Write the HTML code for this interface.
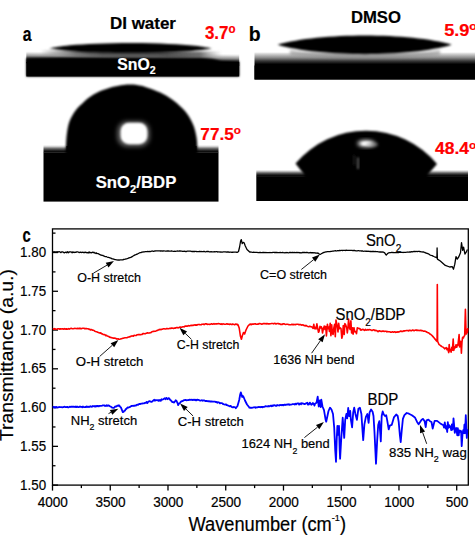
<!DOCTYPE html>
<html><head><meta charset="utf-8"><style>
html,body{margin:0;padding:0;background:#fff;}
body{width:475px;height:535px;overflow:hidden;}
svg{display:block;font-family:"Liberation Sans", sans-serif;}
text{stroke-width:0.2px;}
.k text{stroke:#000;}
</style></head><body>
<svg width="475" height="535" viewBox="0 0 475 535" xmlns="http://www.w3.org/2000/svg">
<defs>
<filter id="b1" x="-20%" y="-50%" width="140%" height="200%"><feGaussianBlur stdDeviation="0.8"/></filter>
<filter id="b15" x="-20%" y="-50%" width="140%" height="200%"><feGaussianBlur stdDeviation="0.8"/></filter>
<filter id="b12" x="-30%" y="-30%" width="160%" height="160%"><feGaussianBlur stdDeviation="1.1"/></filter>
<filter id="b2" x="-20%" y="-50%" width="140%" height="200%"><feGaussianBlur stdDeviation="1.6"/></filter>
<filter id="b3" x="-50%" y="-50%" width="200%" height="200%"><feGaussianBlur stdDeviation="2.2"/></filter>
<linearGradient id="subA" x1="0" y1="0" x2="0" y2="1">
 <stop offset="0" stop-color="#fff"/><stop offset="0.12" stop-color="#e8e8e8"/><stop offset="0.35" stop-color="#a0a0a0"/><stop offset="0.6" stop-color="#404040"/><stop offset="0.8" stop-color="#080808"/><stop offset="1" stop-color="#000"/>
</linearGradient>
<linearGradient id="subB" x1="0" y1="0" x2="0" y2="1">
 <stop offset="0" stop-color="#f4f4f4"/><stop offset="0.08" stop-color="#c8c8c8"/><stop offset="0.2" stop-color="#8a8a8a"/><stop offset="0.32" stop-color="#383838"/><stop offset="0.44" stop-color="#000"/><stop offset="1" stop-color="#000"/>
</linearGradient>
<linearGradient id="edgeT" x1="0" y1="0" x2="0" y2="1">
 <stop offset="0" stop-color="#fff"/><stop offset="0.2" stop-color="#d0d0d0"/><stop offset="0.5" stop-color="#606060"/><stop offset="0.8" stop-color="#151515"/><stop offset="1" stop-color="#000"/>
</linearGradient>
<linearGradient id="bandA" x1="0" y1="0" x2="1" y2="0">
 <stop offset="0" stop-color="#888" stop-opacity="0"/><stop offset="0.1" stop-color="#999" stop-opacity="0.8"/><stop offset="0.2" stop-color="#777"/><stop offset="0.35" stop-color="#555"/><stop offset="0.7" stop-color="#505050"/><stop offset="0.88" stop-color="#707070"/><stop offset="1" stop-color="#999" stop-opacity="0"/>
</linearGradient>
<linearGradient id="softTop" x1="0" y1="0" x2="0" y2="1"><stop offset="0" stop-color="#000" stop-opacity="0"/><stop offset="1" stop-color="#000"/></linearGradient>
</defs>
<g transform="translate(26.3,51.2) skewY(0.75)"><rect x="0" y="0" width="212.9" height="12" fill="url(#subA)"/></g>
<g filter="url(#b1)"><path d="M40,50 C80,50.5 170,51.5 222,51.5 L222,58 C170,58 90,57.5 40,57 Z" fill="url(#bandA)"/></g>
<g filter="url(#b1)"><path d="M49,48.3 C55,47.3 60,46.5 70,45.3 C85,43.8 105,43 132,42.9 C160,43 180,44.3 195,45.8 C203,46.8 208,47.7 212,48.6 C205,49.8 198,50.6 190,51.2 C170,52.5 150,53 132,53 C110,53 90,52.6 80,52 C70,51.3 60,50.2 49,48.3 Z" fill="#000"/></g>
<g filter="url(#b15)"><path d="M26.3,58.3 L60,57.6 L200,57.8 C210,58 214,59.5 222,61 L239.2,61.6 L239.2,76.5 L26.3,76.5 Z" fill="#000"/></g>
<rect x="26.3" y="62" width="212.9" height="14.5" fill="#000"/>
<rect x="43.5" y="145" width="175" height="7.5" fill="url(#edgeT)"/>
<rect x="43.5" y="152.3" width="175" height="49.3" fill="#000"/>
<g filter="url(#b15)"><path d="M65.60,150.00 C65.65,149.42 65.73,148.83 65.90,146.50 C66.07,144.17 66.18,139.58 66.60,136.00 C67.02,132.42 67.58,128.17 68.40,125.00 C69.22,121.83 70.23,119.50 71.50,117.00 C72.77,114.50 74.48,111.98 76.00,110.00 C77.52,108.02 78.48,107.15 80.60,105.10 C82.72,103.05 85.67,99.92 88.70,97.70 C91.73,95.48 95.15,93.48 98.80,91.80 C102.45,90.12 106.90,88.68 110.60,87.60 C114.30,86.52 117.93,85.80 121.00,85.30 C124.07,84.80 126.33,84.63 129.00,84.60 C131.67,84.57 134.03,84.63 137.00,85.10 C139.97,85.57 142.92,86.15 146.80,87.40 C150.68,88.65 156.08,90.60 160.30,92.60 C164.52,94.60 168.52,96.87 172.10,99.40 C175.68,101.93 179.02,105.00 181.80,107.80 C184.58,110.60 186.80,113.12 188.80,116.20 C190.80,119.28 192.52,122.78 193.80,126.30 C195.08,129.82 195.92,133.93 196.50,137.30 C197.08,140.67 197.15,144.38 197.30,146.50 C197.45,148.62 197.38,149.42 197.40,150.00 L197.4,155 L65.6,155 Z" fill="#000"/></g>
<rect x="66.5" y="146" width="130" height="6" fill="#000"/>
<g filter="url(#b3)"><rect x="117" y="121" width="33" height="26" rx="10" fill="#fff" opacity="0.35"/></g>
<g filter="url(#b12)"><rect x="120.6" y="122.7" width="26.8" height="21.6" rx="8.5" fill="#fff"/></g>
<rect x="254.5" y="52.3" width="220.5" height="27.2" fill="url(#subB)"/>
<g filter="url(#b2)"><path d="M290,50 C330,55 400,55 440,50 L440,55 C400,59 330,59 290,55 Z" fill="#888" opacity="0.6"/></g>
<g filter="url(#b1)"><path d="M277.6,44.8 C320,32.5 410,32.5 451.8,44.8 C410,57.3 320,57.3 277.6,44.8 Z" fill="#000"/></g>
<rect x="254.5" y="65.5" width="220.5" height="14" fill="#000"/>
<rect x="256.3" y="169.8" width="211.7" height="6.5" fill="url(#edgeT)"/>
<rect x="256.3" y="176.1" width="211.7" height="24.9" fill="#000"/>
<g filter="url(#b15)"><path d="M295.5,163.5 A92.3,92.3 0 0 1 437,164 L427.5,175 L428,180 L304.5,180 L304.5,175 Z" fill="#000"/></g>
<g filter="url(#b3)"><ellipse cx="366" cy="143.5" rx="8.5" ry="3.2" fill="#fff"/></g>
<g filter="url(#b1)"><ellipse cx="366" cy="143.5" rx="4.5" ry="1.6" fill="#fff"/></g>
<g filter="url(#b1)"><rect x="357.2" y="157.5" width="1.6" height="11.5" fill="#6a6a6a"/><rect x="353.6" y="155" width="1.2" height="10" fill="#2a2a2a"/></g>
<g filter="url(#b2)"><ellipse cx="372" cy="144.5" rx="6" ry="2.6" fill="#aaa" opacity="0.6"/></g>
<text transform="translate(22.84,40.50) scale(0.7799,1)" font-size="20.20" fill="#000" font-weight="bold" stroke="#000" stroke-width="0.40">a</text>
<text transform="translate(248.82,40.50) scale(1.0077,1)" font-size="19.30" fill="#000" font-weight="bold" stroke="#000" stroke-width="0.10">b</text>
<text transform="translate(22.42,242.40) scale(0.7531,1)" font-size="19.60" fill="#000" font-weight="bold" stroke="#000" stroke-width="0.35">c</text>
<text transform="translate(109.96,29.20) scale(1.0423,1)" font-size="16.30" fill="#000" font-weight="bold" stroke="#000" stroke-width="0.30">DI water</text>
<text transform="translate(350.88,22.90) scale(1.0441,1)" font-size="16.00" fill="#000" font-weight="bold" stroke="#000" stroke-width="0.30">DMSO</text>
<text transform="translate(204.91,38.70) scale(0.9730,1)" font-size="17.50" fill="#ff0000" font-weight="bold" stroke="#ff0000" stroke-width="0.30">3.7<tspan font-size="11.90" dy="-5.86">o</tspan><tspan dy="5.86"></tspan></text>
<text transform="translate(444.14,36.00) scale(1.0500,1)" font-size="17.30" fill="#ff0000" font-weight="bold" stroke="#ff0000" stroke-width="0.30">5.9<tspan font-size="11.76" dy="-5.80">o</tspan></text>
<text transform="translate(200.36,140.00) scale(0.9936,1)" font-size="17.30" fill="#ff0000" font-weight="bold" stroke="#ff0000" stroke-width="0.30">77.5<tspan font-size="11.76" dy="-5.80">o</tspan></text>
<text transform="translate(435.03,154.30) scale(1.0300,1)" font-size="17.00" fill="#ff0000" font-weight="bold" stroke="#ff0000" stroke-width="0.30">48.4<tspan font-size="11.56" dy="-5.70">o</tspan></text>
<text transform="translate(117.24,69.70) scale(0.9408,1)" font-size="16.80" fill="#fff" font-weight="bold" stroke="#fff" stroke-width="0.30">SnO<tspan font-size="11.26" dy="4.79">2</tspan></text>
<text transform="translate(95.72,188.00) scale(0.9836,1)" font-size="17.00" fill="#fff" font-weight="bold" stroke="#fff" stroke-width="0.30">SnO<tspan font-size="11.39" dy="4.84">2</tspan><tspan dy="-4.84">/BDP</tspan></text>
<g fill="none" stroke="#000" stroke-width="1.3">
<rect x="52.5" y="228.9" width="415.8" height="256.2"/>
<line x1="52.5" y1="485.12" x2="58.0" y2="485.12"/>
<line x1="52.5" y1="465.74" x2="55.5" y2="465.74"/>
<line x1="52.5" y1="446.35" x2="58.0" y2="446.35"/>
<line x1="52.5" y1="426.97" x2="55.5" y2="426.97"/>
<line x1="52.5" y1="407.58" x2="58.0" y2="407.58"/>
<line x1="52.5" y1="388.20" x2="55.5" y2="388.20"/>
<line x1="52.5" y1="368.81" x2="58.0" y2="368.81"/>
<line x1="52.5" y1="349.43" x2="55.5" y2="349.43"/>
<line x1="52.5" y1="330.04" x2="58.0" y2="330.04"/>
<line x1="52.5" y1="310.65" x2="55.5" y2="310.65"/>
<line x1="52.5" y1="291.27" x2="58.0" y2="291.27"/>
<line x1="52.5" y1="271.89" x2="55.5" y2="271.89"/>
<line x1="52.5" y1="252.50" x2="58.0" y2="252.50"/>
<line x1="52.5" y1="233.12" x2="55.5" y2="233.12"/>
<line x1="52.50" y1="485.1" x2="52.50" y2="490.6"/>
<line x1="81.37" y1="485.1" x2="81.37" y2="488.1"/>
<line x1="110.25" y1="485.1" x2="110.25" y2="490.6"/>
<line x1="139.12" y1="485.1" x2="139.12" y2="488.1"/>
<line x1="167.99" y1="485.1" x2="167.99" y2="490.6"/>
<line x1="196.86" y1="485.1" x2="196.86" y2="488.1"/>
<line x1="225.73" y1="485.1" x2="225.73" y2="490.6"/>
<line x1="254.61" y1="485.1" x2="254.61" y2="488.1"/>
<line x1="283.48" y1="485.1" x2="283.48" y2="490.6"/>
<line x1="312.35" y1="485.1" x2="312.35" y2="488.1"/>
<line x1="341.22" y1="485.1" x2="341.22" y2="490.6"/>
<line x1="370.10" y1="485.1" x2="370.10" y2="488.1"/>
<line x1="398.97" y1="485.1" x2="398.97" y2="490.6"/>
<line x1="427.84" y1="485.1" x2="427.84" y2="488.1"/>
<line x1="456.71" y1="485.1" x2="456.71" y2="490.6"/>
</g>
<text transform="translate(46.1,489.7) scale(0.885,1)" font-size="15.1" text-anchor="end" stroke="#000" stroke-width="0.2">1.50</text>
<text transform="translate(46.1,451.0) scale(0.885,1)" font-size="15.1" text-anchor="end" stroke="#000" stroke-width="0.2">1.55</text>
<text transform="translate(46.1,412.2) scale(0.885,1)" font-size="15.1" text-anchor="end" stroke="#000" stroke-width="0.2">1.60</text>
<text transform="translate(46.1,373.4) scale(0.885,1)" font-size="15.1" text-anchor="end" stroke="#000" stroke-width="0.2">1.65</text>
<text transform="translate(46.1,334.6) scale(0.885,1)" font-size="15.1" text-anchor="end" stroke="#000" stroke-width="0.2">1.70</text>
<text transform="translate(46.1,295.9) scale(0.885,1)" font-size="15.1" text-anchor="end" stroke="#000" stroke-width="0.2">1.75</text>
<text transform="translate(46.1,257.1) scale(0.885,1)" font-size="15.1" text-anchor="end" stroke="#000" stroke-width="0.2">1.80</text>
<text transform="translate(52.80,506.9) scale(0.9,1)" font-size="15.1" text-anchor="middle" stroke="#000" stroke-width="0.2">4000</text>
<text transform="translate(110.55,506.9) scale(0.9,1)" font-size="15.1" text-anchor="middle" stroke="#000" stroke-width="0.2">3500</text>
<text transform="translate(168.29,506.9) scale(0.9,1)" font-size="15.1" text-anchor="middle" stroke="#000" stroke-width="0.2">3000</text>
<text transform="translate(226.03,506.9) scale(0.9,1)" font-size="15.1" text-anchor="middle" stroke="#000" stroke-width="0.2">2500</text>
<text transform="translate(283.78,506.9) scale(0.9,1)" font-size="15.1" text-anchor="middle" stroke="#000" stroke-width="0.2">2000</text>
<text transform="translate(341.52,506.9) scale(0.9,1)" font-size="15.1" text-anchor="middle" stroke="#000" stroke-width="0.2">1500</text>
<text transform="translate(399.27,506.9) scale(0.9,1)" font-size="15.1" text-anchor="middle" stroke="#000" stroke-width="0.2">1000</text>
<text transform="translate(457.01,506.9) scale(0.9,1)" font-size="15.1" text-anchor="middle" stroke="#000" stroke-width="0.2">500</text>
<text transform="translate(188.52,530.60) scale(0.9178,1)" font-size="19.90" fill="#000" stroke="#000" stroke-width="0.20">Wavenumber (cm<tspan font-size="9.95" dy="-9.15">-1</tspan><tspan dy="9.15">)</tspan></text>
<text transform="translate(13.4,441.03) rotate(-90) scale(1.0003,0.93)" font-size="19.3" stroke="#000" stroke-width="0.2">Transmittance (a.u.)</text>
<path d="M53.0,252.0 53.4,251.8 53.8,252.4 54.3,251.7 54.8,252.3 55.4,252.1 56.0,251.7 56.6,252.2 57.3,251.7 58.0,252.1 58.7,251.7 59.5,251.7 60.2,252.1 61.0,252.6 61.8,251.8 62.7,251.9 63.5,252.4 64.3,252.8 65.1,252.4 66.0,252.1 66.8,252.8 67.6,251.7 68.4,252.7 69.2,252.0 70.0,251.9 70.7,251.8 71.4,252.1 72.1,252.7 72.8,251.9 73.6,252.4 74.3,252.5 75.1,252.2 75.9,252.4 76.7,251.8 77.5,251.8 78.2,252.0 79.0,252.6 79.8,252.3 80.6,252.1 81.4,252.5 82.2,252.3 82.9,252.1 83.7,252.7 84.4,252.6 85.1,252.1 85.8,252.5 86.5,252.5 87.2,252.9 87.8,252.7 88.4,252.2 89.0,253.0 89.5,252.0 90.0,252.4 91.2,252.9 92.3,252.2 93.2,252.6 93.9,252.2 94.6,253.0 95.1,253.2 95.6,253.0 96.1,253.5 96.5,252.9 97.0,253.4 98.0,253.6 98.6,253.9 99.2,254.2 100.0,254.7 100.6,255.0 101.3,255.1 102.0,255.4 102.8,255.4 103.5,255.9 104.3,256.1 105.0,256.5 105.7,256.7 106.4,256.7 107.1,257.0 107.9,257.3 108.6,257.3 109.3,257.7 110.0,257.9 110.7,258.1 111.4,258.3 112.1,258.9 112.9,258.9 113.6,259.1 114.3,259.4 115.0,259.7 115.7,259.6 116.4,259.8 117.1,259.9 117.9,260.1 118.6,260.0 119.3,260.1 120.0,259.8 120.7,259.8 121.4,259.8 122.1,259.9 122.9,259.9 123.6,259.4 124.3,259.3 125.0,259.2 125.7,259.0 126.4,258.9 127.1,258.7 127.9,258.4 128.6,258.0 129.3,257.9 130.0,257.5 130.7,257.3 131.4,257.1 132.1,256.6 132.8,256.2 133.5,255.8 134.2,255.4 135.0,254.8 135.7,254.8 136.4,254.4 137.0,254.1 137.8,253.8 138.5,253.3 139.3,253.0 140.1,252.6 141.0,252.6 141.6,252.2 142.3,252.1 143.0,252.0 143.7,251.9 144.5,251.9 145.2,251.7 146.0,251.6 146.8,251.6 147.6,251.5 148.4,251.6 149.2,251.4 150.0,251.6 150.6,251.5 151.1,251.3 151.5,251.2 151.9,251.2 152.3,251.2 152.6,251.0 153.1,251.3 153.6,251.3 154.2,251.1 154.9,251.0 155.9,250.9 157.0,250.9 158.4,250.9 160.0,250.9 160.4,251.1 160.9,250.9 161.4,250.8 161.9,251.2 162.4,251.0 163.0,250.9 163.5,251.0 164.1,250.8 164.7,251.0 165.3,251.2 165.9,251.2 166.5,251.1 167.1,250.9 167.8,251.0 168.4,250.9 169.1,251.2 169.8,251.1 170.5,251.2 171.2,251.0 171.9,251.0 172.6,251.2 173.4,251.3 174.1,251.3 174.9,251.2 175.6,251.3 176.4,251.2 177.1,251.0 177.9,251.2 178.7,251.1 179.4,251.0 180.2,251.0 181.0,251.1 181.8,251.1 182.6,251.3 183.4,251.4 184.2,251.2 185.0,251.4 185.7,251.5 186.5,251.5 187.3,251.2 188.1,251.2 188.9,251.2 189.7,251.2 190.4,251.2 191.2,251.4 192.0,251.5 192.8,251.5 193.5,251.4 194.3,251.5 195.0,251.5 195.7,251.3 196.5,251.5 197.2,251.6 197.9,251.6 198.6,251.6 199.3,251.5 200.0,251.4 200.7,251.6 201.5,251.5 202.2,251.7 203.0,251.7 203.8,251.5 204.6,251.5 205.4,251.8 206.2,251.7 207.0,251.5 207.8,251.5 208.6,251.5 209.4,251.8 210.2,251.8 211.0,251.6 211.9,251.9 212.7,251.9 213.5,251.8 214.3,251.7 215.2,251.8 216.0,251.7 216.8,251.6 217.6,252.0 218.4,251.9 219.3,251.9 220.1,252.1 220.9,251.9 221.6,252.1 222.4,252.1 223.2,251.9 224.0,251.9 224.7,251.9 225.5,251.9 226.2,252.1 226.9,252.0 227.6,252.0 228.3,251.9 229.0,252.3 229.7,252.1 230.3,252.1 231.0,252.2 231.6,252.3 232.2,252.1 232.8,252.4 233.4,252.2 233.9,252.2 234.4,252.2 234.9,252.1 235.4,252.2 235.9,252.1 236.3,252.1 236.7,252.4 237.1,252.3 237.5,252.3 238.5,251.5 239.6,247.0 240.6,241.0 241.3,239.6 242.2,243.5 243.2,242.3 244.1,242.8 245.3,246.0 247.0,249.5 249.7,252.0 249.7,252.0 250.0,251.9 250.4,252.0 250.7,252.2 251.0,252.1 251.4,252.1 251.8,252.2 252.3,252.3 253.0,252.4 253.7,252.2 254.6,252.4 255.6,252.3 256.9,252.4 258.3,252.6 260.0,252.5 260.5,252.5 260.9,252.6 261.4,252.7 262.0,252.5 262.5,252.6 263.1,252.5 263.7,252.5 264.3,252.6 264.9,252.5 265.6,252.6 266.2,252.5 266.9,252.7 267.6,252.6 268.3,252.7 269.1,252.7 269.8,252.5 270.6,252.6 271.3,252.7 272.1,252.7 272.9,252.4 273.7,252.4 274.5,252.5 275.3,252.4 276.1,252.5 276.9,252.4 277.7,252.6 278.5,252.7 279.4,252.7 280.2,252.4 281.0,252.7 281.8,252.6 282.6,252.4 283.5,252.7 284.3,252.8 285.1,252.5 285.9,252.8 286.7,252.5 287.5,252.6 288.3,252.8 289.1,252.7 289.8,252.4 290.6,252.5 291.3,252.6 292.0,252.5 292.8,252.5 293.5,252.5 294.2,252.7 294.8,252.4 295.5,252.6 296.1,252.6 296.7,252.4 297.3,252.5 297.9,252.6 298.5,252.6 299.0,252.4 299.5,252.8 300.0,252.7 301.3,252.8 302.5,252.5 303.6,252.5 304.6,252.4 305.6,252.7 306.4,252.5 307.2,252.5 307.9,252.6 308.6,252.8 309.2,252.8 309.8,252.6 310.3,252.5 310.9,252.9 311.3,252.7 311.8,252.8 312.2,252.6 312.7,252.6 313.1,252.8 313.5,252.8 314.0,252.6 315.3,253.0 316.2,253.0 316.9,253.2 317.4,253.0 317.8,253.4 318.3,253.2 319.4,254.2 320.2,254.4 320.9,254.0 321.6,253.5 322.5,253.2 323.0,252.7 323.5,252.5 324.1,252.5 324.9,252.2 326.0,251.9 326.6,251.9 327.2,251.7 327.8,251.7 328.6,251.7 329.3,251.6 330.1,251.6 330.9,251.4 331.7,251.3 332.6,251.1 333.4,251.1 334.2,250.9 335.0,250.9 335.7,250.7 336.3,251.0 337.0,250.8 337.6,250.6 338.3,250.7 339.0,250.8 339.6,250.4 340.3,250.6 341.0,250.4 341.7,250.4 342.5,250.5 343.3,250.3 344.1,250.3 345.0,250.4 345.6,250.5 346.2,250.2 346.9,250.4 347.6,250.4 348.3,250.4 349.0,250.3 349.7,250.3 350.5,250.3 351.2,250.3 352.0,250.3 352.8,250.6 353.5,250.5 354.3,250.5 355.0,250.5 355.8,250.8 356.5,250.9 357.3,250.8 358.0,250.7 358.7,250.7 359.3,250.8 360.0,250.9 360.8,250.8 361.6,251.0 362.3,250.9 363.1,251.2 363.8,251.3 364.5,251.2 365.3,251.1 366.0,251.4 366.7,251.2 367.4,251.3 368.0,251.2 368.7,251.4 369.4,251.4 370.0,251.5 370.7,251.4 371.4,251.6 372.0,251.4 372.8,251.5 373.6,251.5 374.4,251.7 375.2,251.5 376.0,251.6 376.8,251.7 377.6,251.7 378.3,251.9 379.1,251.9 379.7,252.0 380.4,252.0 381.0,252.0 381.5,252.1 382.0,252.0 383.4,252.1 384.0,252.6 384.5,252.7 385.5,254.2 386.3,255.1 387.1,254.1 388.0,253.3 388.5,252.9 390.0,252.6 390.5,252.6 391.0,252.6 391.6,252.3 392.3,252.5 393.0,252.5 393.7,252.6 394.5,252.6 395.3,252.6 396.1,252.5 396.9,252.7 397.7,252.6 398.5,252.6 399.3,252.4 400.0,252.3 400.7,252.3 401.4,252.4 402.2,252.3 402.9,252.5 403.7,252.4 404.4,252.4 405.1,252.3 405.9,252.3 406.6,252.2 407.3,252.0 408.0,252.2 408.7,252.2 409.3,252.0 410.0,252.0 410.8,252.0 411.6,251.7 412.4,251.9 413.1,251.6 413.9,251.5 414.6,251.5 415.3,251.6 416.0,251.3 416.7,251.5 417.4,251.6 418.0,251.4 418.8,251.4 419.6,251.5 420.4,251.6 421.1,251.8 421.8,251.8 422.5,252.0 423.2,251.9 424.0,252.2 424.7,252.4 425.4,252.9 426.1,253.0 426.9,253.4 427.6,253.5 428.4,253.9 429.1,254.3 429.8,254.8 430.5,255.1 431.3,255.4 432.2,255.6 433.1,256.1 433.9,256.5 434.7,256.8 435.4,257.0 436.0,257.4 436.5,257.6 436.9,257.8 437.1,248.0 437.4,259.1 440.3,261.0 445.3,265.4 449.7,267.0 452.3,266.7 453.5,269.2 454.8,264.2 456.0,256.6 457.3,259.1 458.6,257.2 460.5,252.8 461.5,242.7 462.7,250.3 463.6,247.1 464.9,254.0 466.2,252.2 467.4,249.6" fill="none" stroke="#000" stroke-width="1.3" stroke-linejoin="round"/>
<path d="M53.0,329.3 53.4,328.8 53.8,329.3 54.3,329.3 54.9,328.6 55.5,328.9 56.2,329.2 56.8,329.3 57.6,328.9 58.3,328.8 59.1,328.7 59.9,329.2 60.7,328.7 61.5,329.0 62.4,328.7 63.2,328.9 64.0,329.2 64.8,328.6 65.6,329.1 66.4,328.9 67.2,329.1 68.0,329.0 68.7,328.6 69.4,329.1 70.0,328.8 70.8,328.4 71.6,328.4 72.5,328.7 73.3,328.7 74.1,328.5 74.9,328.4 75.6,328.5 76.4,328.5 77.1,328.8 77.9,328.2 78.6,328.7 79.3,328.7 79.9,328.2 80.5,328.7 81.2,328.6 81.7,328.7 82.3,328.3 82.8,328.3 83.9,328.3 84.8,328.8 85.5,328.6 86.0,328.5 86.6,328.6 87.2,328.7 88.0,328.7 88.6,328.9 89.2,329.5 89.9,329.3 90.5,329.9 91.2,329.6 91.9,329.8 92.6,330.2 93.4,330.2 94.2,330.6 95.0,331.3 95.6,331.5 96.3,331.7 97.0,331.8 97.7,332.3 98.5,332.6 99.2,332.7 100.0,333.1 100.8,332.9 101.5,333.7 102.3,333.9 103.0,334.4 103.7,334.6 104.4,334.6 105.0,334.7 105.8,335.6 106.6,335.4 107.3,336.0 108.0,336.2 108.7,336.4 109.3,337.0 110.0,337.4 110.6,337.2 111.3,337.7 112.0,337.7 112.7,338.0 113.5,338.1 114.3,338.1 115.1,338.3 115.8,338.4 116.6,339.0 117.4,338.9 118.1,338.7 118.8,339.3 119.5,339.3 120.4,339.0 121.1,338.7 121.8,338.6 122.4,338.4 123.2,338.3 124.0,338.0 125.0,337.8 125.6,337.7 126.1,337.8 126.8,337.8 127.4,337.6 128.0,337.2 128.7,337.0 129.4,336.9 130.1,336.6 130.9,336.4 131.6,336.0 132.4,335.9 133.3,336.2 134.1,335.4 135.0,335.5 135.6,335.5 136.3,335.5 136.9,334.9 137.6,334.8 138.3,334.6 139.1,334.6 139.8,334.5 140.6,334.7 141.3,334.5 142.1,334.4 142.9,333.6 143.7,333.5 144.4,333.8 145.2,333.8 145.9,333.3 146.7,333.3 147.4,332.7 148.1,332.9 148.7,333.1 149.4,332.9 150.0,332.7 150.9,332.6 151.7,331.9 152.5,331.6 153.2,331.4 153.9,331.4 154.6,331.3 155.3,331.2 156.0,330.9 156.6,330.6 157.3,330.5 157.9,330.1 158.6,330.0 159.3,329.4 160.0,329.8 160.7,329.3 161.4,329.6 162.1,329.3 162.9,329.0 163.6,328.8 164.3,328.8 165.0,329.0 165.7,329.0 166.4,328.6 167.1,328.5 167.8,328.7 168.6,328.7 169.3,328.5 170.0,328.3 170.7,328.5 171.5,328.0 172.2,328.1 172.9,328.2 173.6,328.4 174.4,328.1 175.1,328.2 175.8,327.8 176.6,327.6 177.3,327.5 178.0,327.9 178.8,327.6 179.5,327.3 180.2,327.0 180.9,327.2 181.6,327.2 182.2,326.9 182.9,326.7 183.5,326.8 184.1,326.9 184.8,326.3 185.4,326.0 186.1,326.1 186.8,326.0 187.5,326.1 188.3,325.6 189.1,325.9 190.0,325.8 190.6,325.5 191.2,325.3 191.8,325.7 192.5,325.2 193.2,325.5 193.8,325.0 194.5,324.9 195.3,325.2 196.0,324.8 196.7,325.2 197.5,324.8 198.2,324.5 198.9,324.5 199.7,324.6 200.4,324.7 201.2,324.8 201.9,324.2 202.7,324.3 203.4,324.1 204.1,324.6 204.8,324.0 205.5,323.9 206.2,323.9 207.0,324.1 207.7,324.4 208.4,324.3 209.1,324.2 209.8,324.4 210.5,324.3 211.2,323.9 211.9,323.8 212.6,324.3 213.3,324.1 214.0,323.6 214.7,324.1 215.4,323.9 216.2,323.9 216.9,323.9 217.6,323.7 218.4,323.6 219.2,323.8 220.0,323.9 220.7,324.3 221.4,323.8 222.1,324.4 222.9,323.8 223.7,324.0 224.5,324.3 225.3,324.3 226.1,324.1 227.0,323.8 227.8,324.2 228.7,324.1 229.5,324.5 230.3,324.0 231.1,324.2 231.9,324.6 232.7,324.0 233.4,324.3 234.2,324.6 234.9,324.6 235.5,324.1 236.1,324.1 236.7,324.2 237.2,324.8 237.6,324.3 238.0,324.7 239.2,328.0 240.4,336.0 241.4,339.2 242.4,335.5 243.5,332.5 244.6,334.0 246.0,330.0 248.0,326.0 249.7,324.3 249.7,324.3 250.1,324.6 250.5,324.1 251.0,324.1 251.5,324.6 252.0,324.3 252.6,324.0 253.2,324.3 253.8,324.0 254.5,323.9 255.2,323.7 255.9,324.2 256.7,324.3 257.4,324.1 258.2,324.3 259.0,323.5 259.8,323.6 260.6,323.8 261.4,324.1 262.2,324.1 263.0,323.6 263.9,323.5 264.7,323.6 265.5,323.6 266.3,324.0 267.0,323.4 267.8,323.9 268.6,323.8 269.3,323.9 270.0,323.8 270.7,323.7 271.5,323.5 272.2,323.5 273.0,323.5 273.7,323.9 274.5,323.4 275.3,323.5 276.0,324.0 276.8,323.6 277.6,323.5 278.3,323.5 279.1,324.0 279.9,323.8 280.6,324.4 281.4,324.3 282.1,324.5 282.9,323.9 283.6,323.8 284.3,323.9 285.0,324.3 285.7,324.5 286.4,324.3 287.0,324.2 287.7,324.3 288.3,324.5 288.9,324.6 289.5,324.7 290.0,324.8 291.0,324.7 292.0,324.2 292.8,324.8 293.6,324.4 294.4,324.6 295.1,324.4 295.8,324.7 296.4,324.3 297.0,324.3 297.6,324.3 298.2,324.2 298.8,324.8 299.4,324.6 300.0,324.5 300.8,324.6 301.6,325.2 302.4,324.9 303.1,324.9 303.9,325.5 304.6,325.5 305.3,326.0 306.0,325.4 306.7,325.9 307.3,326.3 307.9,326.5 308.8,326.7 309.7,326.2 310.5,326.6 311.3,326.7 312.0,326.9 312.6,327.7 313.0,327.5 313.0,328.4 313.8,324.3 314.5,328.6 315.3,327.4 316.0,329.0 316.9,323.9 317.6,327.8 318.5,332.3 319.0,331.7 320.0,326.4 320.8,328.0 321.3,326.8 321.9,328.1 322.5,333.0 323.3,329.2 324.2,326.1 325.0,329.5 325.8,326.4 326.4,335.9 327.4,324.2 328.2,328.8 328.9,327.1 329.4,331.4 330.2,323.4 330.9,335.6 331.7,324.9 332.4,333.8 333.1,334.5 333.8,328.2 334.6,324.4 335.3,336.7 336.0,320.1 336.8,324.2 337.5,327.8 338.0,331.9 338.7,323.4 339.4,328.6 340.2,327.8 341.0,328.5 341.8,338.2 342.4,336.2 343.3,325.6 344.2,334.5 344.9,323.6 345.7,324.9 346.7,327.7 347.3,333.0 348.0,327.5 348.6,319.0 349.4,327.7 350.1,329.5 350.9,320.7 351.6,333.0 352.5,327.9 353.1,334.1 354.0,327.7 354.6,331.7 355.6,331.5 356.5,333.6 357.3,327.9 357.9,328.5 358.8,328.2 359.6,328.8 360.4,329.3 360.4,330.1 360.9,329.4 361.5,330.1 362.3,329.6 363.1,329.3 364.0,330.1 364.8,330.4 365.5,329.3 366.2,330.0 367.0,330.1 367.7,329.6 368.5,329.9 369.3,329.6 370.0,329.8 370.7,329.9 371.5,330.4 372.3,330.5 373.0,329.9 373.7,329.7 374.4,330.2 375.0,330.7 375.8,330.2 376.4,330.6 377.0,330.7 378.0,331.7 378.5,331.4 379.1,330.7 379.7,330.8 380.4,331.3 381.1,331.4 381.8,331.4 382.6,331.1 383.3,331.1 384.2,331.5 385.0,331.3 385.6,331.3 386.3,331.4 386.9,331.9 387.6,331.5 388.4,331.7 389.1,331.7 389.8,331.8 390.6,332.2 391.3,332.3 392.1,331.9 392.8,331.9 393.5,332.3 394.3,331.9 395.0,331.8 395.7,332.4 396.4,332.0 397.1,332.2 397.9,331.8 398.6,332.1 399.3,331.7 400.0,331.4 400.7,331.1 401.4,331.4 402.1,331.4 402.9,331.4 403.6,330.8 404.3,331.1 405.0,330.8 405.7,330.8 406.5,330.5 407.2,330.5 408.0,330.6 408.7,330.9 409.5,330.2 410.2,330.4 411.0,330.6 411.7,330.7 412.4,330.1 413.1,330.0 413.8,330.6 414.4,330.6 415.0,330.2 416.0,329.9 416.8,330.5 417.6,330.1 418.3,330.5 419.0,330.4 419.7,330.6 420.3,330.2 421.0,330.7 421.8,330.4 422.6,330.7 423.3,331.2 424.1,331.3 424.8,331.1 425.5,331.4 426.3,331.8 427.1,332.3 427.8,332.6 428.6,332.8 429.3,333.3 430.0,334.1 430.9,334.5 431.6,335.2 432.3,335.8 433.0,336.6 433.8,337.5 434.6,338.6 435.4,339.5 436.0,340.3 437.1,341.3 437.3,284.5 437.6,341.3 438.9,344.3 440.4,345.5 441.9,346.6 443.4,347.4 444.9,348.8 446.2,347.5 447.0,349.7 447.6,348.4 448.7,352.6 449.2,344.6 449.7,350.9 450.5,349.5 451.1,352.2 451.8,347.4 452.4,350.3 453.2,339.1 453.8,350.4 454.6,347.1 455.4,347.7 456.0,344.7 456.8,347.2 457.3,344.8 457.9,345.4 459.1,334.6 459.6,347.0 460.1,341.2 460.8,341.4 461.4,353.3 462.0,341.8 462.6,337.3 463.4,338.0 463.9,336.5 464.7,335.5 465.4,309.2 466.1,334.1 466.7,329.8 467.3,332.7 467.8,328.1" fill="none" stroke="#ff0000" stroke-width="1.6" stroke-linejoin="round"/>
<path d="M53.0,407.7 53.4,406.9 53.8,407.3 54.3,407.5 54.9,406.9 55.5,407.6 56.1,406.9 56.8,407.3 57.5,407.3 58.3,407.3 59.0,407.0 59.8,407.1 60.6,407.2 61.5,407.1 62.3,407.3 63.1,407.1 63.9,407.0 64.8,406.7 65.6,407.2 66.4,407.1 67.2,406.8 67.9,407.3 68.6,407.3 69.3,407.0 70.0,406.7 70.8,407.0 71.6,406.6 72.3,406.6 73.1,406.9 73.8,406.6 74.5,406.9 75.2,407.0 75.9,406.5 76.6,407.1 77.2,406.6 77.9,407.1 78.6,407.2 79.3,406.9 80.0,406.5 80.7,406.9 81.4,406.8 82.2,407.3 82.9,406.5 83.7,407.1 84.4,407.2 85.1,407.0 85.8,407.0 86.5,406.4 87.2,407.1 88.0,406.6 88.8,407.0 89.5,406.9 90.3,406.2 91.1,406.7 91.9,406.8 92.6,406.0 93.4,406.2 94.2,406.5 94.9,406.0 95.6,406.6 96.3,406.0 97.0,406.4 97.7,405.8 98.3,406.1 98.9,406.4 99.5,405.8 100.0,405.8 101.1,405.9 102.1,405.7 103.0,405.4 103.8,405.4 104.5,405.4 105.1,406.0 105.7,405.7 106.3,405.9 106.8,405.2 107.3,405.8 108.5,405.3 109.2,405.9 110.0,406.3 110.8,406.5 111.6,407.4 112.4,407.6 113.2,407.8 114.2,407.8 115.1,406.5 116.0,406.7 116.8,406.1 117.5,405.6 118.3,405.8 119.0,405.3 120.1,406.6 121.0,407.6 121.9,409.8 122.8,412.1 123.5,411.9 124.2,411.0 125.0,410.7 125.7,409.2 126.4,408.9 127.5,407.5 128.0,407.6 128.6,407.7 129.2,407.1 129.9,407.0 130.6,406.5 131.4,406.0 132.4,405.8 133.4,405.7 134.0,406.0 134.6,405.6 135.2,405.5 135.9,405.7 136.6,404.8 137.4,404.7 138.1,404.9 138.9,404.1 139.7,403.9 140.4,404.0 141.2,403.6 142.0,403.6 142.8,403.3 143.5,403.4 144.3,403.3 145.0,402.9 145.8,402.8 146.6,402.0 147.4,403.1 148.2,401.8 149.0,401.4 149.8,401.1 150.6,401.7 151.4,401.9 152.1,401.6 152.9,400.8 153.6,400.4 154.3,399.8 154.9,400.7 155.5,400.4 156.0,400.0 157.2,400.3 158.1,400.0 158.7,400.9 159.3,400.7 160.0,399.9 160.8,400.8 161.6,399.2 162.4,399.7 163.2,399.3 164.0,398.8 164.8,398.3 165.5,399.3 166.3,397.9 167.0,398.6 167.6,399.2 168.5,398.1 169.3,398.6 170.0,399.7 170.8,400.2 171.5,401.2 172.3,402.0 173.2,402.1 173.9,402.6 175.0,401.3 175.7,400.3 176.4,400.7 177.4,402.8 178.2,405.1 179.0,403.6 180.0,402.9 180.6,402.2 181.2,401.3 182.7,401.0 183.2,400.7 183.7,400.3 184.2,400.1 184.8,400.1 185.3,399.9 186.0,400.0 186.7,400.3 187.4,400.2 188.1,400.2 189.0,400.0 189.8,399.6 190.8,399.8 191.8,399.7 192.8,400.1 193.4,399.8 194.0,399.6 194.6,400.0 195.2,400.3 195.9,399.7 196.6,400.3 197.3,399.6 198.1,399.9 198.8,399.9 199.6,400.4 200.4,400.7 201.2,400.5 202.0,400.2 202.8,400.8 203.6,400.4 204.4,400.4 205.2,401.0 206.0,400.9 206.8,401.0 207.5,401.1 208.3,401.4 209.0,401.1 209.8,401.5 210.5,401.4 211.1,401.7 211.8,401.4 212.4,401.7 213.0,401.7 213.9,401.6 214.8,401.6 215.6,402.1 216.4,401.8 217.2,402.7 217.9,402.2 218.6,402.3 219.3,402.5 219.9,403.4 220.6,403.1 221.2,403.1 221.8,403.2 222.4,403.3 223.1,404.1 223.7,404.2 224.3,404.5 225.0,404.7 225.8,404.3 226.6,405.0 227.4,405.1 228.2,405.7 229.1,406.0 229.9,406.3 230.7,405.9 231.5,406.8 232.3,407.1 233.0,407.4 233.7,406.9 234.4,407.2 234.9,407.3 235.4,407.4 235.8,408.2 237.5,406.0 239.2,400.0 240.2,394.5 240.8,392.4 241.5,394.5 242.2,397.0 242.9,396.0 243.6,397.0 245.0,400.5 247.0,404.5 249.2,407.3 249.2,407.6 249.7,407.6 250.3,407.9 251.0,407.7 251.8,407.9 252.6,407.7 253.5,407.4 254.3,407.3 255.0,407.2 255.7,407.8 256.3,407.3 256.9,407.3 257.5,407.4 258.2,407.0 259.0,407.1 260.0,407.0 260.6,407.3 261.2,406.9 261.8,406.8 262.5,407.3 263.2,406.8 263.9,407.0 264.7,406.7 265.5,406.1 266.2,406.4 267.0,406.3 267.8,406.5 268.5,406.0 269.3,406.3 270.0,406.0 270.7,405.7 271.4,406.2 272.1,405.4 272.8,406.0 273.5,405.4 274.2,405.2 274.9,405.3 275.6,405.8 276.4,405.9 277.1,405.0 277.8,405.4 278.5,405.3 279.3,405.5 280.0,404.9 280.7,405.1 281.4,405.0 282.1,405.3 282.9,404.8 283.6,405.3 284.3,404.7 285.1,404.6 285.8,405.0 286.6,404.7 287.3,404.3 288.1,404.7 288.8,404.2 289.5,404.8 290.3,404.6 291.0,404.7 291.7,404.5 292.5,404.2 293.2,404.1 294.0,404.1 294.7,404.5 295.5,403.7 296.2,404.3 297.0,403.5 297.7,403.3 298.4,403.3 299.1,404.6 299.8,403.7 300.4,403.4 301.0,404.4 301.6,403.1 302.5,403.5 303.4,403.6 304.1,404.0 304.9,404.0 305.6,403.8 306.2,403.2 306.8,403.1 307.4,402.8 308.0,404.7 309.0,404.3 309.8,402.6 310.6,403.6 311.3,404.8 312.0,404.3 312.9,402.9 313.8,404.2 314.5,405.6 315.0,403.7 316.5,402.7 317.7,396.7 318.7,406.5 319.8,400.5 320.7,407.2 321.3,399.7 322.5,406.5 324.0,410.2 325.5,419.2 326.2,421.7 327.7,414.7 328.5,411.0 330.0,407.7 331.5,409.5 333.0,414.0 334.2,427.4 335.2,449.9 336.0,461.8 336.7,439.4 337.4,425.9 338.2,434.9 339.0,425.9 339.7,449.9 340.1,458.8 341.2,439.4 342.7,417.7 343.4,427.4 344.2,437.9 345.2,419.9 346.4,414.0 347.2,418.4 348.2,408.0 349.1,416.2 350.2,411.0 350.9,419.9 352.1,427.4 353.2,412.4 354.2,407.7 355.4,414.0 356.9,419.9 358.4,408.7 359.9,407.7 361.4,414.0 362.6,431.9 363.2,440.1 364.4,424.4 365.9,416.9 367.4,414.0 368.6,422.9 369.6,412.4 371.1,409.5 372.6,411.7 373.5,416.0 374.5,432.4 376.0,463.8 377.2,439.9 378.2,424.9 379.3,421.2 380.2,432.4 380.8,441.4 381.7,416.0 382.7,411.5 383.8,414.5 385.0,416.0 386.2,415.2 387.2,420.4 388.7,429.4 389.8,425.7 391.7,424.9 393.9,417.4 396.2,414.5 397.7,416.0 398.7,421.9 399.9,435.4 400.7,442.1 401.7,430.9 402.9,418.9 404.4,415.2 406.7,413.0 408.9,413.7 411.9,415.2 414.9,417.4 417.1,421.9 418.6,424.2 420.1,421.9 421.6,419.7 423.1,418.9 424.6,421.2 425.7,427.2 426.6,420.4 428.4,419.7 430.0,421.2 431.5,422.0 432.7,428.5 434.6,420.9 437.1,420.9 440.3,423.4 443.4,425.3 444.0,427.5 444.8,422.5 445.7,428.6 446.5,426.1 447.2,432.0 447.8,422.2 448.5,427.9 449.1,425.2 449.9,427.0 450.4,426.5 451.3,430.2 451.9,424.3 452.4,429.6 453.0,428.0 453.5,418.4 454.8,432.9 455.3,429.8 456.2,428.0 457.3,435.4 457.8,428.1 458.7,435.3 459.3,430.3 459.9,431.8 460.4,430.7 461.1,431.3 461.7,446.2 462.5,434.4 463.2,430.1 463.9,433.2 464.4,424.7 465.0,433.3 465.8,415.2 466.8,437.9 467.3,430.1 467.9,430.4" fill="none" stroke="#0000ff" stroke-width="1.8" stroke-linejoin="round"/>
<text transform="translate(365.92,245.60) scale(0.9181,1)" font-size="16.20" fill="#000" stroke="#000" stroke-width="0.20">SnO<tspan font-size="11.02" dy="6.48">2</tspan></text>
<text transform="translate(335.52,319.80) scale(0.9119,1)" font-size="16.30" fill="#000" stroke="#000" stroke-width="0.20">SnO<tspan font-size="11.08" dy="6.52">2</tspan><tspan dy="-6.52">/BDP</tspan></text>
<text transform="translate(367.47,404.90) scale(0.9228,1)" font-size="16.30" fill="#000" stroke="#000" stroke-width="0.20">BDP</text>
<text transform="translate(77.21,282.10) scale(0.9455,1)" font-size="13.20" fill="#000" stroke="#000" stroke-width="0.20">O-H stretch</text>
<text transform="translate(260.07,279.40) scale(0.9193,1)" font-size="13.60" fill="#000" stroke="#000" stroke-width="0.20">C=O stretch</text>
<text transform="translate(75.87,365.50) scale(0.9651,1)" font-size="13.70" fill="#000" stroke="#000" stroke-width="0.20">O-H stretch</text>
<text transform="translate(176.87,348.60) scale(0.9012,1)" font-size="13.70" fill="#000" stroke="#000" stroke-width="0.20">C-H stretch</text>
<text transform="translate(273.24,363.60) scale(0.9198,1)" font-size="13.70" fill="#000" stroke="#000" stroke-width="0.20">1636 NH bend</text>
<text transform="translate(70.73,424.60) scale(0.9789,1)" font-size="13.30" fill="#000" stroke="#000" stroke-width="0.20">NH<tspan font-size="9.04" dy="5.32">2</tspan><tspan dy="-5.32"> stretch</tspan></text>
<text transform="translate(177.84,425.60) scale(0.9758,1)" font-size="13.40" fill="#000" stroke="#000" stroke-width="0.20">C-H stretch</text>
<text transform="translate(241.52,448.30) scale(0.9704,1)" font-size="13.30" fill="#000" stroke="#000" stroke-width="0.20">1624 NH<tspan font-size="9.04" dy="5.32">2</tspan><tspan dy="-5.32"> bend</tspan></text>
<text transform="translate(389.03,456.60) scale(0.9937,1)" font-size="13.30" fill="#000" stroke="#000" stroke-width="0.20">835 NH<tspan font-size="9.04" dy="5.32">2</tspan><tspan dy="-5.32"> wag</tspan></text>
<line x1="93.4" y1="273.2" x2="107.1" y2="265.1" stroke="#000" stroke-width="0.9"/><path d="M114.0,261.0 L108.5,267.4 L105.7,262.8 Z" fill="#000"/>
<line x1="301.3" y1="269.5" x2="313.7" y2="259.6" stroke="#000" stroke-width="0.9"/><path d="M319.9,254.6 L315.3,261.7 L312.0,257.5 Z" fill="#000"/>
<line x1="99.6" y1="356.5" x2="112.4" y2="345.2" stroke="#000" stroke-width="0.9"/><path d="M118.4,339.9 L114.2,347.2 L110.6,343.2 Z" fill="#000"/>
<line x1="191.5" y1="339.4" x2="185.2" y2="333.3" stroke="#000" stroke-width="0.9"/><path d="M179.5,327.7 L187.1,331.4 L183.3,335.2 Z" fill="#000"/>
<line x1="311.6" y1="353.2" x2="320.4" y2="340.7" stroke="#000" stroke-width="0.9"/><path d="M325.0,334.2 L322.6,342.3 L318.2,339.2 Z" fill="#000"/>
<line x1="108.5" y1="413.6" x2="111.1" y2="412.3" stroke="#000" stroke-width="0.9"/><path d="M118.3,408.8 L112.3,414.7 L109.9,409.9 Z" fill="#000"/>
<line x1="193.1" y1="416.0" x2="185.9" y2="409.0" stroke="#000" stroke-width="0.9"/><path d="M180.1,403.5 L187.7,407.1 L184.0,411.0 Z" fill="#000"/>
<line x1="304.4" y1="437.6" x2="317.6" y2="427.1" stroke="#000" stroke-width="0.9"/><path d="M323.9,422.1 L319.3,429.2 L316.0,425.0 Z" fill="#000"/>
<line x1="426.7" y1="443.8" x2="422.6" y2="432.3" stroke="#000" stroke-width="0.9"/><path d="M419.9,424.8 L425.1,431.4 L420.1,433.2 Z" fill="#000"/>
</svg>
</body></html>
